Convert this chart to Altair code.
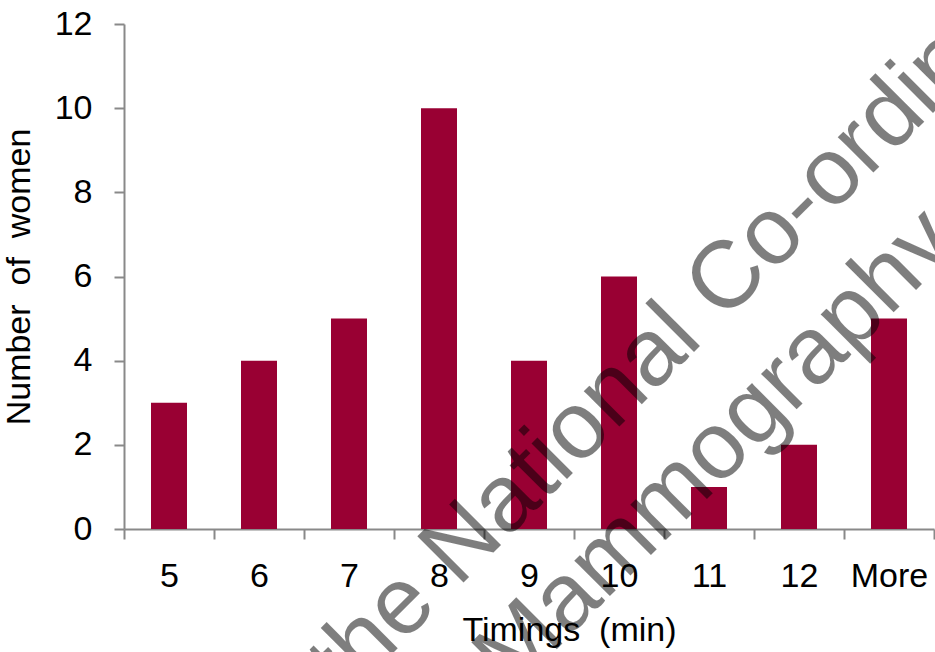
import altair as alt
import pandas as pd

# Histogram of procedure timings
timings = ["5", "6", "7", "8", "9", "10", "11", "12", "More"]
women = [3, 4, 5, 10, 4, 6, 1, 2, 5]
y_ticks = [0, 2, 4, 6, 8, 10, 12]

# Diagonal copyright overprint
overprint = ["the National Co-ordinating Centre", "Mammography"]

FONT = "Liberation Sans"
BAR = "#990033"
AXIS = "#898989"

df = pd.DataFrame({"timing": timings, "women": women})

bars = alt.Chart(df).mark_bar(color=BAR, width=alt.RelativeBandSize(0.4)).encode(
    x=alt.X(
        "timing:N",
        sort=timings,
        scale=alt.Scale(paddingInner=0, paddingOuter=0),
        axis=alt.Axis(
            title="Timings\u00a0\u00a0(min)",
            labelAngle=0,
            tickBand="extent",
            tickSize=10,
            labelPadding=20,
            titleX=445,
            titleY=111,
            titleAlign="center",
            titleBaseline="alphabetic",
            titleAnchor="start",
        ),
    ),
    y=alt.Y(
        "women:Q",
        scale=alt.Scale(domain=[0, 12], nice=False),
        axis=alt.Axis(
            title="Number\u00a0\u00a0of\u00a0\u00a0women",
            values=y_ticks,
            tickSize=10,
            labelPadding=22,
            titlePadding=18,
        ),
    ),
)


def overprint_line(text, x, y):
    return alt.Chart(pd.DataFrame({"line": [text]})).mark_text(
        font=FONT,
        fontSize=95,
        angle=315,
        align="left",
        baseline="alphabetic",
        color="black",
        opacity=0.5,
    ).encode(text="line:N", x=alt.value(x), y=alt.value(y))


chart = (
    alt.layer(bars, overprint_line(overprint[0], 222, 676), overprint_line(overprint[1], 388, 670))
    .properties(
        width=810,
        height=505,
        autosize=alt.AutoSizeParams(type="none"),
        padding={"left": 124, "top": 24, "right": 1, "bottom": 123},
    )
    .configure_view(stroke=None)
    .configure_axis(
        grid=False,
        domainColor=AXIS,
        domainWidth=2,
        tickColor=AXIS,
        tickWidth=2,
        labelFont=FONT,
        labelFontSize=34,
        labelColor="black",
        titleFont=FONT,
        titleFontSize=34,
        titleFontWeight="normal",
        titleColor="black",
    )
)

chart.save("out.html", embed_options={"renderer": "svg", "actions": False})
